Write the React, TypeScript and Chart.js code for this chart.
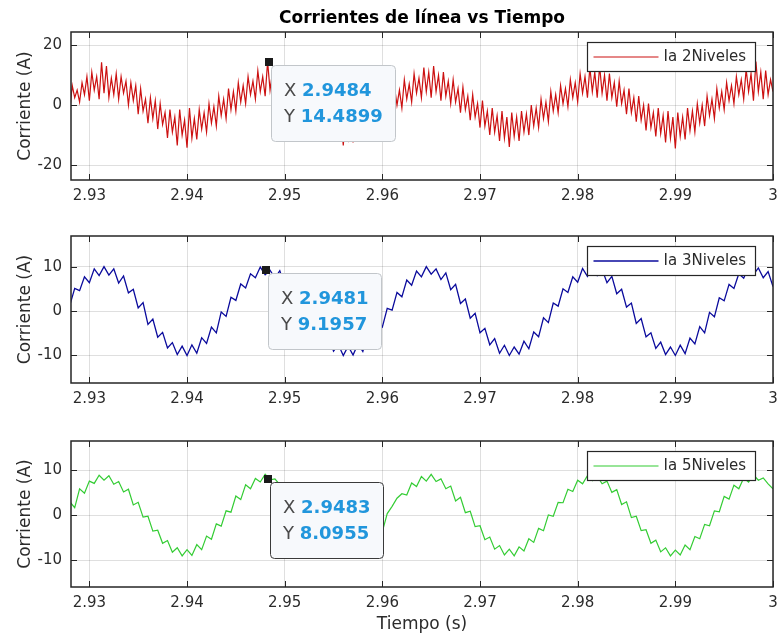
import React, { useEffect, useRef } from 'react';
import { Chart, registerables } from 'chart.js';

Chart.register(...registerables);

// ---------------- data ----------------
const TITLE = 'Corrientes de línea vs Tiempo';
const Y_LABEL = 'Corriente (A)';
const X_LABEL = 'Tiempo (s)';
const SERIES_NAMES = ['Ia 2Niveles', 'Ia 3Niveles', 'Ia 5Niveles'];

// sampling grid of the recorded signals (s)
const T_START = 2.928;
const STEP_2NIV = 0.00025;
const STEP_3NIV = 0.0005;
const STEP_5NIV = 0.0005;

const X_TICKS = [2.93, 2.94, 2.95, 2.96, 2.97, 2.98, 2.99, 3.0];
const X_TICK_LABELS = ['2.93', '2.94', '2.95', '2.96', '2.97', '2.98', '2.99', '3'];
const Y_TICKS_2NIV = [-20, 0, 20];
const Y_TICKS_3NIV = [-10, 0, 10];
const Y_TICKS_5NIV = [-10, 0, 10];

const IA_2NIVELES = [
  -1.5, 6.5, 2.5, 5.0, 1.0, 7.5, 3.5, 9.5, 1.5, 11.0, 5.0, 9.5, 2.0, 14.3, 4.0, 13.0, 2.5, 9.0, 3.5, 10.5,
  2.0, 9.5, 4.0, 8.0, 0.0, 7.5, 1.5, 6.5, -3.0, 5.5, -2.0, 2.0, -6.0, 2.5, -4.5, 1.5, -8.0, 0.5, -6.5, -2.5,
  -11.0, -1.5, -9.0, -4.0, -13.5, -1.5, -10.0, -5.0, -14.2, -1.0, -11.0, -4.5, -11.5, -1.5, -8.0, -2.5, -9.0, 0.5, -6.0, -0.5,
  -7.0, 3.0, -3.5, 2.0, -4.5, 5.5, -1.5, 4.5, -2.0, 7.5, 1.0, 6.5, 0.5, 9.5, 3.5, 8.0, 2.0, 11.5, 4.5, 9.5,
  3.0, 14.5, 5.0, 11.0, 2.5, 12.0, 4.0, 9.0, 1.0, 10.0, 2.0, 7.0, -1.0, 7.5, -0.5, 4.5, -4.0, 5.0, -3.0, 1.5,
  -6.5, 2.5, -5.5, -0.5, -9.0, 0.0, -8.0, -3.0, -11.5, -1.5, -9.5, -4.0, -13.5, -2.5, -11.0, -5.0, -12.5, -2.0, -9.5, -3.5,
  -11.0, -1.0, -7.5, -2.0, -8.5, 1.0, -5.0, 0.5, -6.0, 3.5, -2.5, 3.0, -3.5, 6.0, 0.0, 5.0, -1.0, 8.5, 2.0, 7.0,
  1.0, 10.5, 4.0, 9.0, 2.5, 12.5, 4.5, 11.0, 2.5, 13.0, 4.5, 10.0, 1.5, 11.0, 3.0, 8.0, 0.5, 8.5, 1.0, 5.5,
  -2.5, 6.0, -1.5, 3.0, -5.0, 3.5, -4.0, 0.5, -7.5, 1.5, -7.0, -2.0, -10.0, -1.0, -9.0, -3.5, -12.0, -2.0, -11.0, -4.0,
  -14.0, -2.5, -10.5, -4.0, -12.0, -2.0, -9.0, -3.0, -10.0, 0.0, -7.0, -1.0, -7.5, 2.0, -4.5, 1.0, -5.5, 4.5, -2.0, 3.5,
  -2.5, 6.5, 0.5, 5.5, -0.5, 8.5, 2.5, 7.5, 1.0, 10.5, 4.0, 9.5, 2.5, 12.5, 4.5, 11.0, 2.5, 13.0, 4.0, 10.0,
  1.5, 10.5, 2.5, 7.5, -0.5, 8.0, 0.5, 5.0, -3.0, 5.5, -2.5, 2.5, -5.5, 3.0, -5.0, 0.0, -8.5, 0.5, -7.5, -2.5,
  -10.5, -1.0, -9.5, -3.5, -12.5, -2.0, -11.0, -4.0, -14.5, -2.5, -10.5, -4.0, -11.5, -1.0, -8.5, -2.0, -9.0, 0.5, -6.0, 0.0,
  -7.0, 3.0, -3.5, 2.0, -4.5, 5.5, -1.0, 4.5, -1.5, 7.5, 1.5, 6.5, 0.5, 9.5, 3.5, 8.5, 2.0, 12.0, 4.5, 10.5,
  1.5, 14.5, 4.5, 11.0, 2.0, 11.5, 3.5, 8.5,
  4.5,
];

const IA_3NIVELES = [
  1.3, 5.1, 4.6, 7.7, 6.4, 9.5, 8.0, 10.0, 8.1, 9.5,
  6.3, 7.9, 4.1, 4.9, 0.7, 1.9, -3.0, -1.8, -5.9, -4.8,
  -8.3, -7.1, -9.8, -7.9, -10.0, -7.6, -9.5, -6.0, -7.3, -3.6,
  -4.9, -0.2, -1.2, 3.1, 2.4, 6.1, 5.2, 8.4, 7.5, 9.9,
  8.2, 9.2, 7.4, 9.1, 5.7, 6.8, 2.8, 3.9, -0.3, 0.4,
  -3.7, -2.7, -6.7, -5.7, -9.0, -7.6, -10.0, -7.9, -9.9, -7.4,
  -9.1, -5.5, -6.8, -2.5, -3.6, 0.6, 0.2, 4.2, 3.2, 7.0,
  5.8, 9.0, 7.7, 10.0, 8.3, 9.5, 7.1, 8.6, 4.8, 6.0,
  1.7, 2.7, -1.6, -0.5, -4.9, -3.9, -7.6, -6.2, -9.5, -7.7,
  -10.0, -8.1, -9.7, -6.8, -8.5, -4.7, -5.8, -1.5, -2.6, 1.8,
  1.1, 5.0, 4.2, 7.7, 6.5, 9.6, 7.8, 10.0, 8.0, 9.4,
  6.4, 7.8, 3.9, 4.9, 0.9, 1.8, -2.8, -1.7, -5.8, -4.9,
  -8.4, -7.0, -9.8, -8.1, -10.0, -7.7, -9.6, -6.1, -7.4, -3.5,
  -4.9, -0.3, -1.3, 3.0, 2.3, 6.0, 5.1, 8.4, 7.4, 9.9,
  8.2, 9.7, 7.5, 8.9, 5.5,
];

const IA_5NIVELES = [
  3.0, 1.7, 5.9, 4.9, 7.6, 7.1, 8.9, 7.8, 8.8, 6.9,
  7.5, 5.2, 5.8, 2.3, 2.9, -0.4, -0.2, -3.5, -3.3, -6.2,
  -5.6, -8.2, -7.2, -9.0, -7.6, -8.9, -6.5, -7.6, -4.6, -5.3,
  -1.9, -2.4, 1.0, 0.7, 4.3, 3.5, 6.8, 5.9, 8.2, 7.4,
  9.1, 7.9, 8.1, 6.8, 7.2, 4.4, 4.9, 1.7, 2.2, -1.5,
  -1.5, -4.3, -4.1, -7.0, -6.3, -8.6, -7.5, -9.1, -7.4, -8.6,
  -6.0, -7.0, -3.9, -4.3, -3.6, 0.4, 2.0, 3.8, 4.8, 4.5,
  7.2, 6.4, 8.6, 7.6, 9.1, 7.5, 8.1, 5.9, 6.5, 3.2,
  4.0, 0.6, 0.9, -2.5, -2.3, -5.4, -4.8, -7.5, -6.7, -8.8,
  -7.5, -9.0, -7.0, -7.9, -5.2, -6.0, -2.9, -3.4, 0.1, -0.2,
  2.9, 2.8, 5.8, 5.3, 7.8, 7.0, 8.8, 7.7, 8.7, 7.0,
  7.6, 5.1, 5.7, 2.4, 3.0, -0.5, -0.2, -3.4, -3.2, -6.2,
  -5.5, -8.1, -7.2, -9.0, -7.7, -8.8, -6.6, -7.6, -4.7, -5.2,
  -2.0, -2.3, 1.0, 0.8, 4.2, 3.6, 6.7, 5.9, 8.3, 7.4,
  9.0, 7.8, 8.3, 7.0, 5.9,
];

// data tips (x, y) shown on each subplot
const TIP_X = [2.9484, 2.9481, 2.9483];
const TIP_Y = [14.4899, 9.1957, 8.0955];

// ---------------- style / layout ----------------
const FAMILY = '"DejaVu Sans", "Liberation Sans", sans-serif';
const TEXT = '#2b2b2b';
const AXIS = '#262626';
const GRID = 'rgba(38,38,38,0.15)';
const COLORS = ['#cc1111', '#0a0a9c', '#33cc33'];
const LINE_W = [1.2, 1.3, 1.2];
const TIP_BLUE = '#2196dc';

const X_MIN = 2.92812;
const X_MAX = 3.0;
const Y_MIN = [-25, -16.2, -15.9];
const Y_MAX = [24.4, 16.9, 16.5];

const CANVAS_TOP = [0, 205, 410];
const CANVAS_H = [205, 205, 232];
const PAD_TOP = [32, 31, 31];
const XAXIS_H = [25, 27, 55];

Chart.defaults.font.family = FAMILY;

const SERIES = [
  { values: IA_2NIVELES, step: STEP_2NIV, yTicks: Y_TICKS_2NIV },
  { values: IA_3NIVELES, step: STEP_3NIV, yTicks: Y_TICKS_3NIV },
  { values: IA_5NIVELES, step: STEP_5NIV, yTicks: Y_TICKS_5NIV },
];

function decor(i: number) {
  return {
    id: 'decor' + i,
    afterDatasetsDraw(chart: any) {
      const { ctx, chartArea: a } = chart;
      const xs = chart.scales.x;
      const ys = chart.scales.y;
      ctx.save();

      // ---- data tip ----
      const px = xs.getPixelForValue(TIP_X[i]);
      const py = ys.getPixelForValue(TIP_Y[i]);
      const xv = TIP_X[i].toFixed(4);
      const yv = TIP_Y[i].toFixed(4);
      const normal = `18px ${FAMILY}`;
      const bold = `bold 18px ${FAMILY}`;
      ctx.font = normal;
      const wx = ctx.measureText('X ').width;
      const wy = ctx.measureText('Y ').width;
      ctx.font = bold;
      const vx = ctx.measureText(xv).width;
      const vy = ctx.measureText(yv).width;
      const bw = Math.round(Math.max(wx + vx, wy + vy) + 25);
      const bh = 76;
      const bx = Math.round(px) + 2.5;
      const by = Math.round(py) + 3.5;
      ctx.beginPath();
      (ctx as any).roundRect(bx, by, bw, bh, 4);
      ctx.fillStyle = '#f7f9fc';
      ctx.fill();
      ctx.lineWidth = 1;
      ctx.strokeStyle = i === 2 ? '#3a3a3a' : '#c2c6ca';
      ctx.stroke();
      ctx.textBaseline = 'middle';
      ctx.textAlign = 'left';
      const tx = bx + 12.5;
      ctx.font = normal;
      ctx.fillStyle = '#4a4a4a';
      ctx.fillText('X', tx, by + 26);
      ctx.fillText('Y', tx, by + 52);
      ctx.font = bold;
      ctx.fillStyle = TIP_BLUE;
      ctx.fillText(xv, tx + wx, by + 26);
      ctx.fillText(yv, tx + wy, by + 52);
      ctx.fillStyle = '#1a1a1a';
      ctx.fillRect(Math.round(px) - 4, Math.round(py) - 4, 8, 8);

      // ---- legend ----
      const lw = 168;
      const lh = 29;
      const lx = Math.round(a.right) - 18 - lw + 0.5;
      const ly = Math.round(a.top) + 10 + 0.5;
      ctx.fillStyle = '#ffffff';
      ctx.fillRect(lx, ly, lw, lh);
      ctx.strokeStyle = AXIS;
      ctx.lineWidth = 1.2;
      ctx.strokeRect(lx, ly, lw, lh);
      ctx.beginPath();
      ctx.moveTo(lx + 6, ly + lh / 2);
      ctx.lineTo(lx + 71, ly + lh / 2);
      ctx.strokeStyle = COLORS[i];
      ctx.lineWidth = LINE_W[i];
      ctx.stroke();
      ctx.font = `15px ${FAMILY}`;
      ctx.fillStyle = TEXT;
      ctx.textBaseline = 'middle';
      ctx.fillText(SERIES_NAMES[i], lx + 76, ly + lh / 2 + 0.5);

      // ---- axes box and inward ticks ----
      ctx.strokeStyle = AXIS;
      ctx.lineWidth = 1;
      const tl = 6;
      ctx.beginPath();
      for (const t of X_TICKS) {
        const x = Math.round(xs.getPixelForValue(t)) + 0.5;
        ctx.moveTo(x, a.bottom);
        ctx.lineTo(x, a.bottom - tl);
        ctx.moveTo(x, a.top);
        ctx.lineTo(x, a.top + tl);
      }
      for (const v of SERIES[i].yTicks) {
        const y = Math.round(ys.getPixelForValue(v)) + 0.5;
        ctx.moveTo(a.left, y);
        ctx.lineTo(a.left + tl, y);
        ctx.moveTo(a.right, y);
        ctx.lineTo(a.right - tl, y);
      }
      ctx.stroke();
      ctx.lineWidth = 1.5;
      ctx.strokeRect(a.left, a.top, a.right - a.left, a.bottom - a.top);

      // ---- title ----
      if (i === 0) {
        ctx.font = `bold 17px ${FAMILY}`;
        ctx.fillStyle = '#000000';
        ctx.textAlign = 'center';
        ctx.textBaseline = 'alphabetic';
        ctx.fillText(TITLE, (a.left + a.right) / 2, 23);
      }
      ctx.restore();
    },
  };
}

function makeConfig(i: number): any {
  const s = SERIES[i];
  const data = s.values.map((y, j) => ({ x: T_START + j * s.step, y }));
  return {
    type: 'line',
    data: {
      datasets: [
        {
          label: SERIES_NAMES[i],
          data,
          borderColor: COLORS[i],
          borderWidth: LINE_W[i],
          pointRadius: 0,
          tension: 0,
          fill: false,
        },
      ],
    },
    options: {
      responsive: false,
      animation: false,
      events: [],
      layout: { padding: { top: PAD_TOP[i], right: 5, left: 0, bottom: 0 } },
      scales: {
        x: {
          type: 'linear',
          bounds: 'data',
          min: X_MIN,
          max: X_MAX,
          afterBuildTicks: (sc: any) => {
            sc.ticks = X_TICKS.map((v) => ({ value: v }));
          },
          afterFit: (sc: any) => {
            sc.height = XAXIS_H[i];
            sc.paddingLeft = 0;
            sc.paddingRight = 0;
          },
          ticks: {
            callback: (_v: any, idx: number) => X_TICK_LABELS[idx],
            color: TEXT,
            font: { size: 15 },
            padding: 7,
            maxRotation: 0,
            autoSkip: false,
          },
          grid: { color: GRID, drawTicks: false },
          border: { display: false },
          title:
            i === 2
              ? {
                  display: true,
                  text: X_LABEL,
                  color: TEXT,
                  font: { size: 17 },
                  padding: { top: 0, bottom: 7 },
                }
              : { display: false },
        },
        y: {
          type: 'linear',
          bounds: 'data',
          min: Y_MIN[i],
          max: Y_MAX[i],
          afterBuildTicks: (sc: any) => {
            sc.ticks = s.yTicks.map((v) => ({ value: v }));
          },
          afterFit: (sc: any) => {
            sc.width = 71;
            sc.paddingTop = 0;
            sc.paddingBottom = 0;
          },
          ticks: {
            callback: (v: any) => String(v),
            color: TEXT,
            font: { size: 15 },
            padding: 9,
            autoSkip: false,
          },
          grid: { color: GRID, drawTicks: false },
          border: { display: false },
          title: {
            display: true,
            text: Y_LABEL,
            color: TEXT,
            font: { size: 17 },
            padding: { top: 15, bottom: 0 },
          },
        },
      },
      plugins: {
        legend: { display: false },
        tooltip: { enabled: false },
        title: { display: false },
      },
    },
    plugins: [decor(i)],
  };
}

export default function App() {
  const r0 = useRef<HTMLCanvasElement>(null);
  const r1 = useRef<HTMLCanvasElement>(null);
  const r2 = useRef<HTMLCanvasElement>(null);

  useEffect(() => {
    const refs = [r0, r1, r2];
    const charts = refs.map((r, i) => new Chart(r.current as HTMLCanvasElement, makeConfig(i)));
    return () => charts.forEach((c) => c.destroy());
  }, []);

  const refs = [r0, r1, r2];
  return (
    <div style={{ position: 'fixed', left: 0, top: 0, width: 778, height: 642, background: '#ffffff' }}>
      {refs.map((r, i) => (
        <canvas
          key={i}
          ref={r}
          width={778}
          height={CANVAS_H[i]}
          style={{ position: 'absolute', left: 0, top: CANVAS_TOP[i], width: 778, height: CANVAS_H[i] }}
        />
      ))}
    </div>
  );
}
